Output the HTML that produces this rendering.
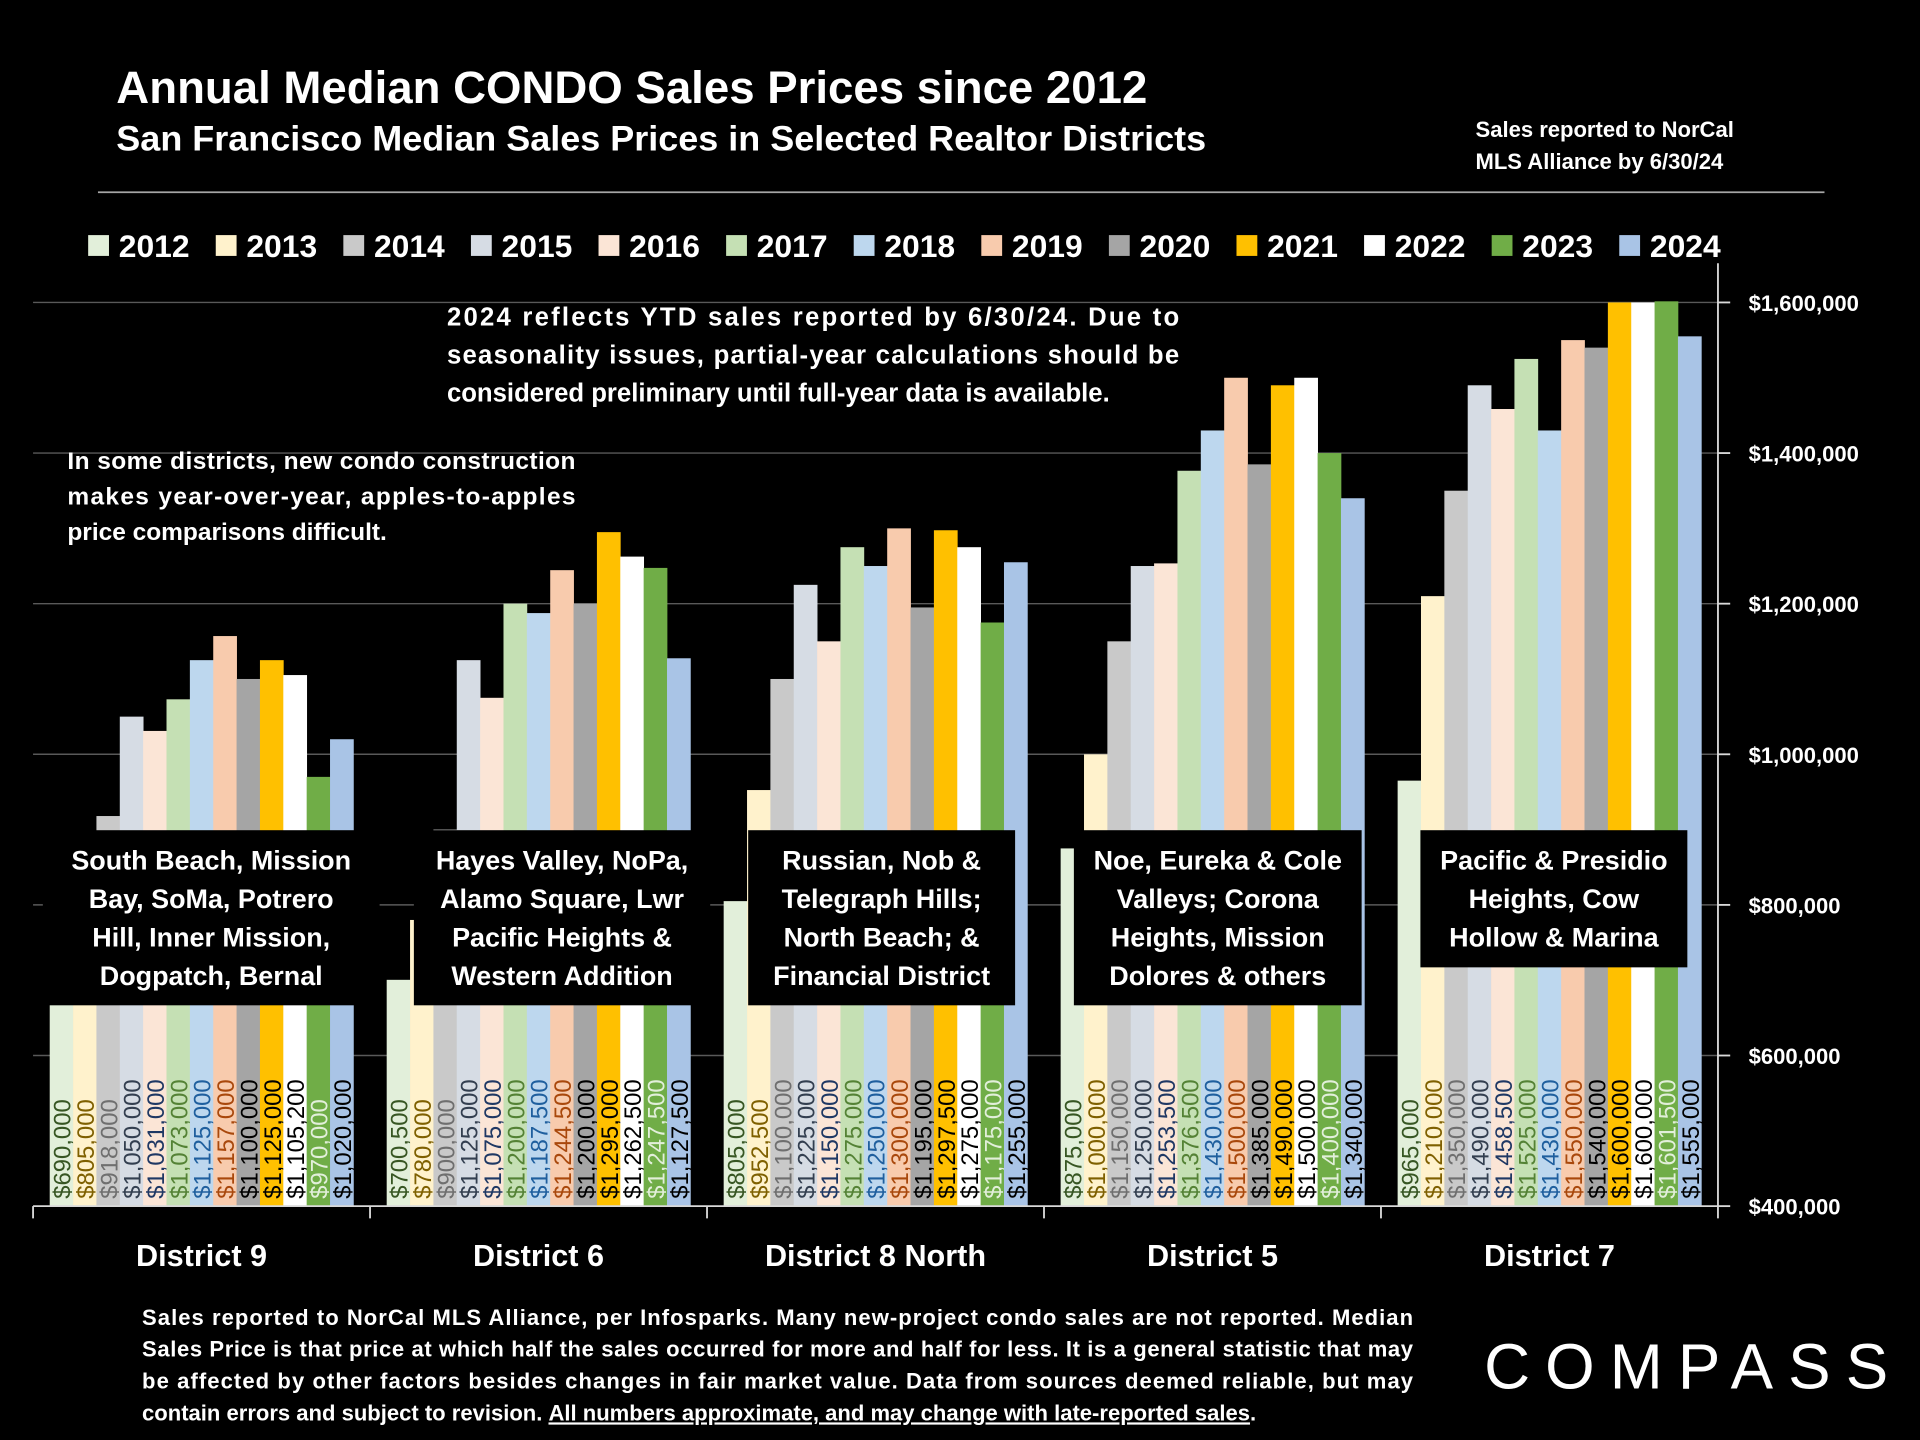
<!DOCTYPE html>
<html><head><meta charset="utf-8"><title>Annual Median CONDO Sales Prices since 2012</title>
<style>
html,body{margin:0;padding:0;background:#000;}
svg{display:block;font-family:"Liberation Sans",sans-serif;}
</style></head>
<body>
<svg id="chart" width="1920" height="1440" viewBox="0 0 1568 1176" xmlns="http://www.w3.org/2000/svg">
<rect width="1568" height="1176" fill="#000"/>
<text x="95" y="84" fill="#fff" font-size="37" font-weight="bold" textLength="842" lengthAdjust="spacingAndGlyphs">Annual Median CONDO Sales Prices since 2012</text>
<text x="95" y="123" fill="#fff" font-size="29" font-weight="bold" textLength="890" lengthAdjust="spacingAndGlyphs">San Francisco Median Sales Prices in Selected Realtor Districts</text>
<text fill="#fff" font-size="18" font-weight="bold"><tspan x="1205" y="112">Sales reported to NorCal</tspan><tspan x="1205" y="138">MLS Alliance by 6/30/24</tspan></text>
<line x1="80" y1="157" x2="1490" y2="157" stroke="#a6a6a6" stroke-width="1.5"/>
<g id="grid"></g>
<g id="bars"></g>
<g id="boxes"></g>
<g id="axes"></g>
<g id="legend"></g>
<text fill="#fff" font-size="21" font-weight="bold">
<tspan x="365" y="266" textLength="598" lengthAdjust="spacing">2024 reflects YTD sales reported by 6/30/24. Due to</tspan>
<tspan x="365" y="297" textLength="598" lengthAdjust="spacing">seasonality issues, partial-year calculations should be</tspan>
<tspan x="365" y="328">considered preliminary until full-year data is available.</tspan>
</text>
<text fill="#fff" font-size="20" font-weight="bold">
<tspan x="55" y="383" textLength="415" lengthAdjust="spacing">In some districts, new condo construction</tspan>
<tspan x="55" y="412" textLength="415" lengthAdjust="spacing">makes year-over-year, apples-to-apples</tspan>
<tspan x="55" y="441">price comparisons difficult.</tspan>
</text>
<text fill="#fff" font-size="18" font-weight="bold">
<tspan x="116" y="1082" textLength="1038" lengthAdjust="spacing">Sales reported to NorCal MLS Alliance, per Infosparks. Many new-project condo sales are not reported. Median</tspan>
<tspan x="116" y="1108" textLength="1038" lengthAdjust="spacing">Sales Price is that price at which half the sales occurred for more and half for less. It is a general statistic that may</tspan>
<tspan x="116" y="1134" textLength="1038" lengthAdjust="spacing">be affected by other factors besides changes in fair market value. Data from sources deemed reliable, but may</tspan>
<tspan x="116" y="1160">contain errors and subject to revision.  <tspan text-decoration="underline">All numbers approximate, and may change with late-reported sales</tspan>.</tspan>
</text>
<text x="1212" y="1134" fill="#fff" font-size="52" textLength="330" lengthAdjust="spacing">COMPASS</text>
<script>
const categories = ["District 9","District 6","District 8 North","District 5","District 7"];
const years = ["2012","2013","2014","2015","2016","2017","2018","2019","2020","2021","2022","2023","2024"];
const d9 = [690000,805000,918000,1050000,1031000,1073000,1125000,1157000,1100000,1125000,1105200,970000,1020000];
const d6 = [700500,780000,900000,1125000,1075000,1200000,1187500,1244500,1200000,1295000,1262500,1247500,1127500];
const d8n = [805000,952500,1100000,1225000,1150000,1275000,1250000,1300000,1195000,1297500,1275000,1175000,1255000];
const d5 = [875000,1000000,1150000,1250000,1253500,1376500,1430000,1500000,1385000,1490000,1500000,1400000,1340000];
const d7 = [965000,1210000,1350000,1490000,1458500,1525000,1430000,1550000,1540000,1600000,1600000,1601500,1555000];
const series = [d9,d6,d8n,d5,d7];
const yTicks = [400000,600000,800000,1000000,1200000,1400000,1600000];
const yTickLabels = ["$400,000","$600,000","$800,000","$1,000,000","$1,200,000","$1,400,000","$1,600,000"];
const districtNames = [
 ["South Beach, Mission","Bay, SoMa, Potrero","Hill, Inner Mission,","Dogpatch, Bernal"],
 ["Hayes Valley, NoPa,","Alamo Square, Lwr","Pacific Heights &","Western Addition"],
 ["Russian, Nob &","Telegraph Hills;","North Beach; &","Financial District"],
 ["Noe, Eureka & Cole","Valleys; Corona","Heights, Mission","Dolores & others"],
 ["Pacific & Presidio","Heights, Cow","Hollow & Marina"]
];
const fills = ["#e2efda","#fff2cc","#c9c9c9","#d6dce4","#fbe5d6","#c5e0b4","#bdd7ee","#f8cbad","#a5a5a5","#ffc000","#ffffff","#70ad47","#a9c4e6"];
const labelColors = ["#375623","#7f6000","#6f6f6f","#333f50","#1f3864","#548235","#1f5f9e","#a9480c","#000000","#000000","#000000","#e2efda","#000000"];

const NS="http://www.w3.org/2000/svg";
const X0=27, X1=1403, Y0=985, YTOP=247;
const band=(X1-X0)/categories.length, pad=13.6, bw=(band-2*pad)/years.length;
function yScale(v){return Y0-(v-400000)/(1600000-400000)*(Y0-YTOP);}
function xBar(c,i){return X0+c*band+pad+i*bw;}
function mk(tag,attrs,parent){const e=document.createElementNS(NS,tag);for(const k in attrs)e.setAttribute(k,attrs[k]);parent.appendChild(e);return e;}
const grid=document.getElementById('grid'),bars=document.getElementById('bars'),boxes=document.getElementById('boxes'),axes=document.getElementById('axes'),legend=document.getElementById('legend');

yTicks.forEach((t,k)=>{
  if(k===0)return;
  const l=mk('line',{x1:X0,x2:X1,y1:yScale(t),y2:yScale(t),stroke:'#595959','stroke-width':1.2},grid);
  
  
});

series.forEach((vals,c)=>{
  vals.forEach((v,i)=>{
    const x=xBar(c,i), y=yScale(v);
    const r=mk('rect',{x:x,y:y,width:bw+0.3,height:Y0-y,fill:fills[i]},bars);
    
    
    const s=mk('text',{transform:`translate(${x+bw/2+7.5},${Y0-6}) rotate(-90)`,fill:labelColors[i],'font-size':19.5,'textLength':($ => $)(0) || null},bars);
    s.removeAttribute('textLength');
    
    
    s.textContent='$'+v.toLocaleString('en-US');
  });
});

const boxGeom=[[35,310,678,821],[338,580,678,821],[611,829,678,821],[877,1112,678,821],[1160,1378,678,790]];
districtNames.forEach((lines,c)=>{
  const g=boxGeom[c];
  const b=mk('rect',{x:g[0],y:g[2],width:g[1]-g[0],height:g[3]-g[2],fill:'#000'},boxes);
  
  
  const cx=(g[0]+g[1])/2;
  lines.forEach((ln,j)=>{
    const t=mk('text',{x:cx,y:710+j*31.5,fill:'#fff','font-size':22,'font-weight':'bold','text-anchor':'middle'},boxes);
    
    
    t.textContent=ln;
  });
});

mk('line',{x1:X0,x2:X1,y1:Y0,y2:Y0,stroke:'#d9d9d9','stroke-width':1.5},axes);
mk('line',{x1:X1,x2:X1,y1:215,y2:Y0,stroke:'#d9d9d9','stroke-width':1.5},axes);
for(let c=0;c<=categories.length;c++){
  mk('line',{x1:X0+c*band,x2:X0+c*band,y1:Y0,y2:Y0+10,stroke:'#d9d9d9','stroke-width':1.5},axes);
}
categories.forEach((n,c)=>{
  const t=mk('text',{x:X0+c*band+band/2,y:1034,fill:'#fff','font-size':25,'font-weight':'bold','text-anchor':'middle'},axes);
  
  
  t.textContent=n;
});
yTicks.forEach((v,k)=>{
  const y=yScale(v);
  mk('line',{x1:X1,x2:X1+10,y1:y,y2:y,stroke:'#d9d9d9','stroke-width':1.5},axes);
  const t=mk('text',{x:1428,y:y+7,fill:'#fff','font-size':18,'font-weight':'bold'},axes);
  
  
  t.textContent=yTickLabels[k];
});

years.forEach((yr,i)=>{
  const x=72+i*104.2;
  const sq=mk('rect',{x:x,y:192,width:17,height:17,fill:fills[i]},legend);
  
  
  const t=mk('text',{x:x+25,y:210,fill:'#fff','font-size':26,'font-weight':'bold'},legend);
  
  
  t.textContent=yr;
});
</script>
</svg>
</body></html>
